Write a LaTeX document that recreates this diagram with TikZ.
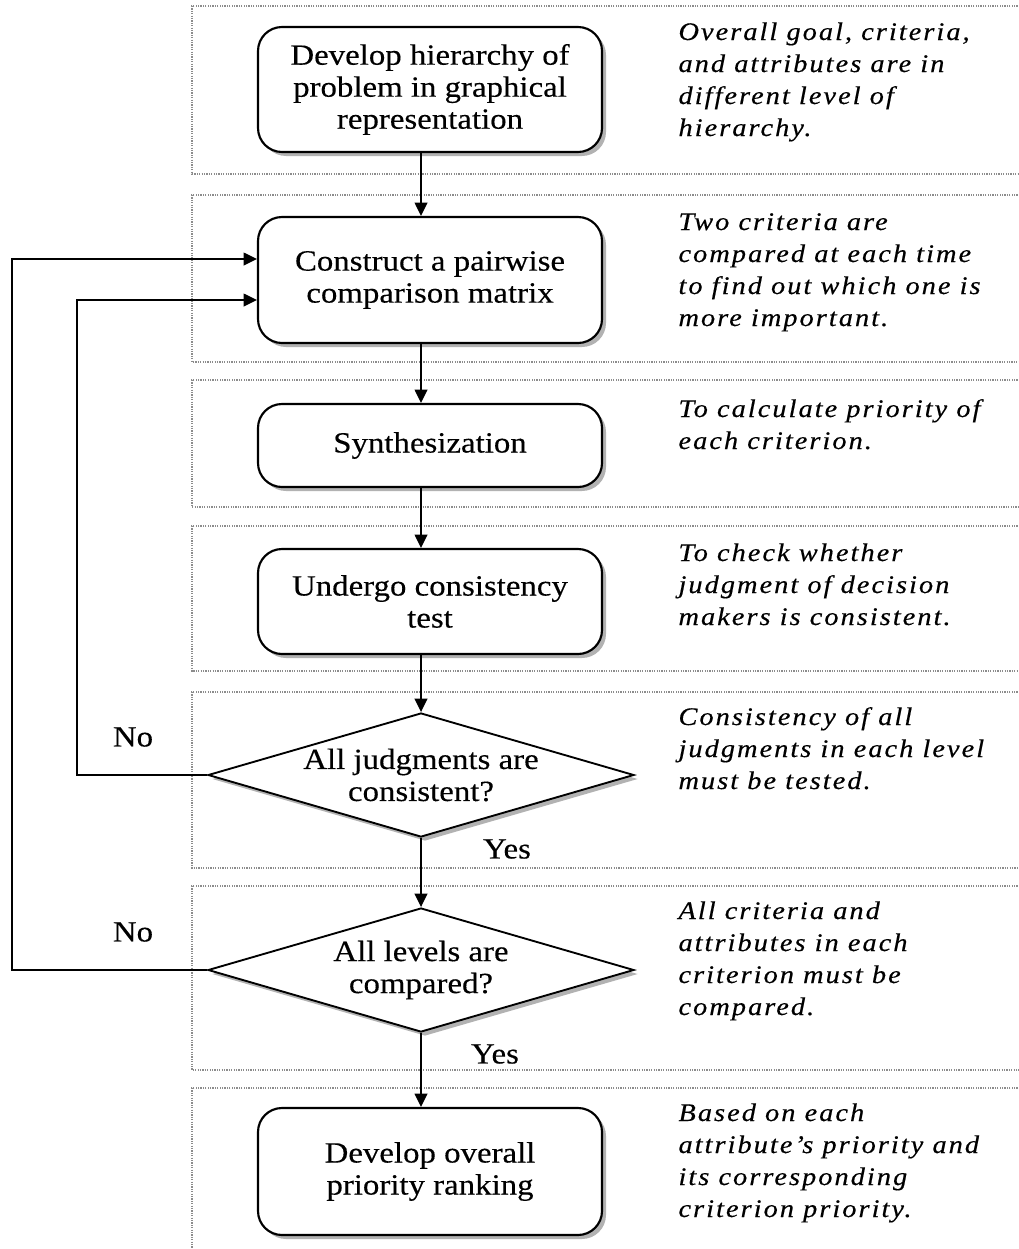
\documentclass[tikz,border=0pt]{standalone}
\usepackage{fontspec}
\setmainfont{Liberation Serif}[FakeStretch=1.12,FakeBold=0.3]
\newfontfamily\notefont{Liberation Serif}[FakeStretch=1.12,LetterSpace=8,FakeBold=0.4]
\usetikzlibrary{shapes.geometric,shadows,arrows.meta}

\tikzset{every picture/.style={line width=0.75pt}}
\tikzset{
  stepbox/.style={draw, line width=1.6pt, rounded corners=18pt, fill=white, minimum width=258pt, inner sep=0pt, align=center, font=\fontsize{22}{24}\selectfont, drop shadow={shadow xshift=3pt, shadow yshift=-3pt, fill=black!60}},
  decision/.style={draw, diamond, aspect=3.4, line width=1.4pt, fill=white, minimum width=319.5pt, minimum height=93pt, inner sep=-6pt, align=center, font=\fontsize{22}{24}\selectfont, drop shadow={shadow xshift=3pt, shadow yshift=-3pt, fill=black!60}},
  note/.style={anchor=base west, align=left, inner sep=0pt, font=\notefont\itshape\fontsize{19}{24}\selectfont},
  answer/.style={inner sep=0pt, font=\fontsize{22}{24}\selectfont},
  panel/.style={draw=black!45, line width=0.9pt, dash pattern=on 0.9pt off 0.9pt},
  flow/.style={line width=1.3pt, -{Triangle[length=10pt,width=9.5pt]}}
}

\begin{document}
\begin{tikzpicture}[x=0.75pt,y=0.75pt,yscale=-1,xscale=1]
\path[use as bounding box] (0,0) rectangle (1018,1249);

%Shape: Dotted Panels
\foreach \top/\bot in {6/174, 195/362, 380/507, 526/671, 692/868, 886/1070, 1088/1262}
  \draw[panel] (1020,\top) -- (192,\top) -- (192,\bot) -- (1020,\bot);

%Shape: Rounded Rectangle
\node[stepbox, minimum height=93.75pt] (hier) at (430,89.5) {Develop hierarchy of\\problem in graphical\\representation};
%Shape: Rounded Rectangle
\node[stepbox, minimum height=94.5pt] (pair) at (430,280) {Construct a pairwise\\comparison matrix};
%Shape: Rounded Rectangle
\node[stepbox, minimum height=62.25pt] (synth) at (430,445.5) {Synthesization};
%Shape: Rounded Rectangle
\node[stepbox, minimum height=78.75pt] (ctest) at (430,601.5) {Undergo consistency\\test};
%Shape: Diamond
\node[decision] (judge) at (421,775) {All judgments are\\consistent?};
%Shape: Diamond
\node[decision] (level) at (421,970) {All levels are\\compared?};
%Shape: Rounded Rectangle
\node[stepbox, minimum height=95.25pt] (rank) at (430,1171.5) {Develop overall\\priority ranking};

%Straight Lines
\draw[flow] (hier.south -| judge.north) -- (pair.north -| judge.north);
\draw[flow] (pair.south -| judge.north) -- (synth.north -| judge.north);
\draw[flow] (synth.south -| judge.north) -- (ctest.north -| judge.north);
\draw[flow] (ctest.south -| judge.north) -- (judge.north);
\draw[flow] (judge.south) -- (level.north);
\draw[flow] (level.south) -- (rank.north -| level.south);

%Straight Lines (loops back)
\coordinate (outer) at (12,259);
\coordinate (inner) at (77,300);
\draw[flow] (level.west) -| (outer) -- (outer -| pair.west);
\draw[flow] (judge.west) -| (inner) -- (inner -| pair.west);

% Text Node
\node[answer] (no1) at (133,737) {No};
% Text Node
\node[answer] (no2) at (133,932) {No};
% Text Node
\node[answer] (yes1) at (507,849) {Yes};
% Text Node
\node[answer] (yes2) at (495,1054) {Yes};

% Text Node (anchored at the last line)
\node[note] (n1) at (678,136) {Overall goal, criteria,\\and attributes are in\\different level of\\hierarchy.};
% Text Node
\node[note] (n2) at (678,326) {Two criteria are\\compared at each time\\to find out which one is\\more important.};
% Text Node
\node[note] (n3) at (678,449) {To calculate priority of\\each criterion.};
% Text Node
\node[note] (n4) at (678,625) {To check whether\\judgment of decision\\makers is consistent.};
% Text Node
\node[note] (n5) at (678,789) {Consistency of all\\judgments in each level\\must be tested.};
% Text Node
\node[note] (n6) at (678,1015) {All criteria and\\attributes in each\\criterion must be\\compared.};
% Text Node
\node[note] (n7) at (678,1217) {Based on each\\attribute’s priority and\\its corresponding\\criterion priority.};

\end{tikzpicture}
\end{document}
